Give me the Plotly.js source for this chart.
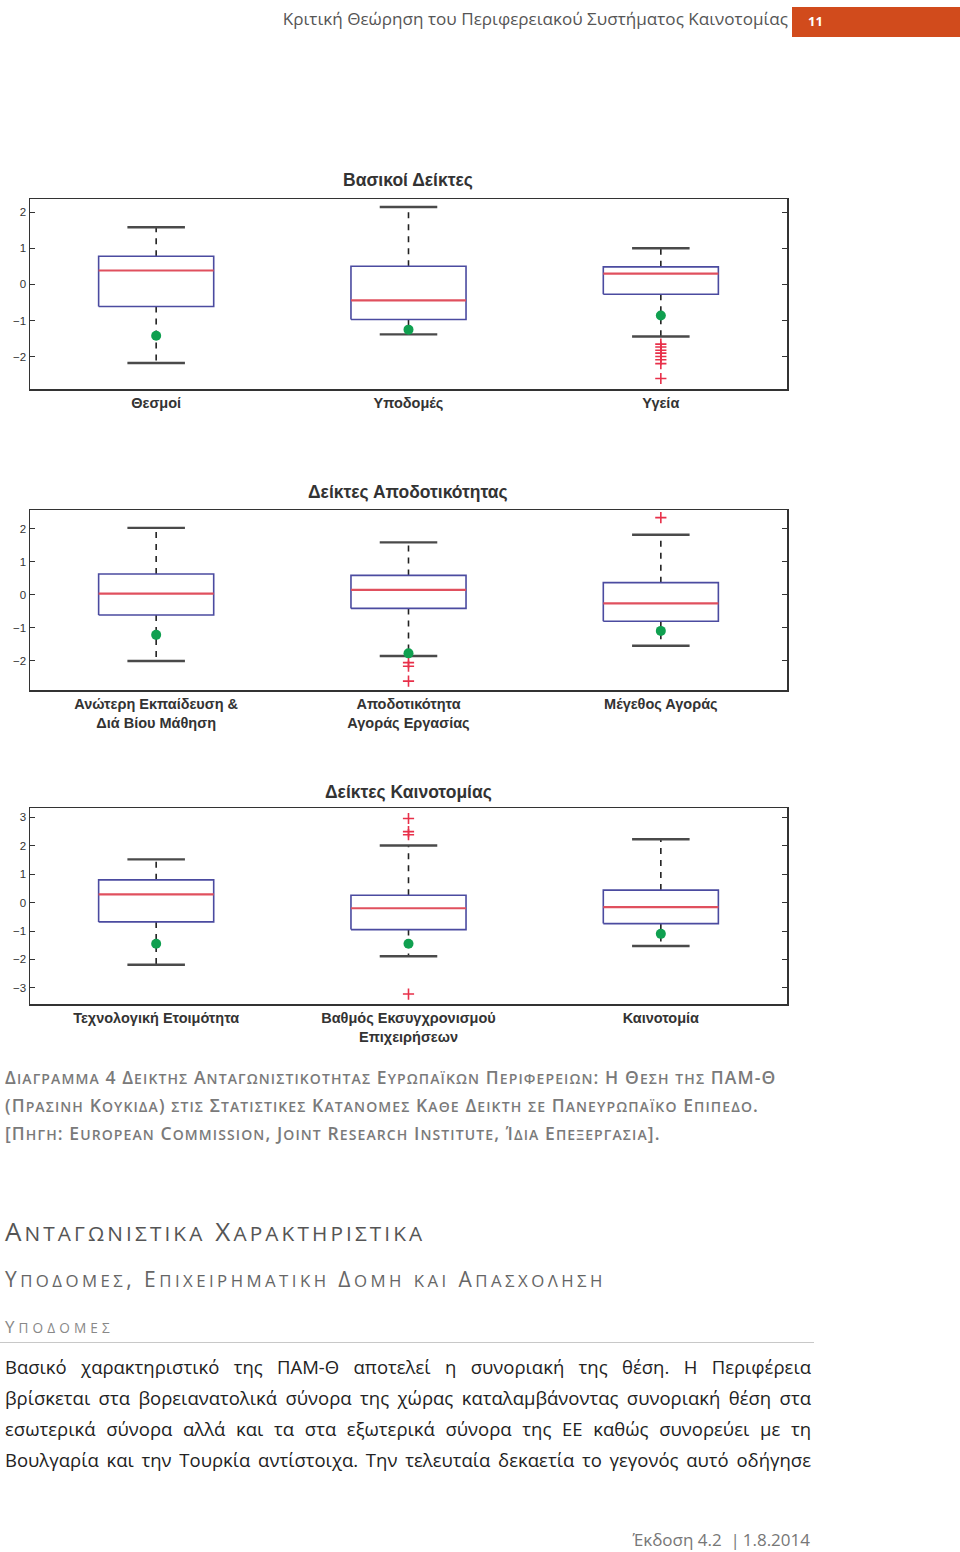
<!DOCTYPE html>
<html lang="el">
<head>
<meta charset="utf-8">
<script src="https://cdn.plot.ly/plotly-3.0.1.min.js"></script>
<style>
  body { margin: 0; background: #fff; font-family: "Open Sans", "Noto Sans", sans-serif; }
  #page { position: relative; width: 960px; height: 1552px; overflow: hidden; }
  .abs { position: absolute; white-space: nowrap; }
  #head { right: 172px; top: 7px; font-size: 17.1px; color: #555; }
  #pagebox { left: 792px; top: 7px; width: 168px; height: 30px; background: #d14b1c; }
  #pagenum { left: 808px; top: 12px; font-size: 13px; font-weight: bold; color: #fff; }
  #charts { position: absolute; left: 0; top: 150px; width: 960px; height: 910px; }
  .cap { left: 5px; font-size: 17.5px; font-weight: 600; color: #7a7a7a; letter-spacing: 1.1px; }
  .h1 { left: 5px; top: 1213px; font-size: 26px; color: #555; letter-spacing: 3.1px; }
  .h2 { left: 5px; top: 1265px; font-size: 21px; color: #666; letter-spacing: 3.45px; }
  .h3 { left: 5px; top: 1315px; font-size: 17px; color: #888; letter-spacing: 4.1px; }
  #rule { position: absolute; left: 0; top: 1342px; width: 814px; height: 1px; background: #c8c8c8; }
  .body { position: absolute; left: 5px; width: 806px; font-size: 18.5px; color: #222; text-align: justify; text-align-last: justify; white-space: nowrap; }
  #foot { right: 150px; top: 1528px; font-size: 17px; color: #777; }
</style>
</head>
<body>
<div id="page">
  <div id="head" class="abs">Κριτική Θεώρηση του Περιφερειακού Συστήματος Καινοτομίας</div>
  <div id="pagebox" class="abs"></div>
  <div id="pagenum" class="abs">11</div>

  <div id="charts"></div>

  <div class="abs cap sc" style="top:1065px">Διαγραμμα 4 Δεικτης Ανταγωνιστικοτητας Ευρωπαϊκων Περιφερειων: Η Θεση της ΠΑΜ-Θ</div>
  <div class="abs cap sc" style="top:1093px">(Πρασινη Κουκιδα) στις Στατιστικες Κατανομες Καθε Δεικτη σε Πανευρωπαϊκο Επιπεδο.</div>
  <div class="abs cap sc" style="top:1121px">[Πηγη: European Commission, Joint Research Institute, Ίδια Επεξεργασια].</div>

  <div class="abs h1 sc">Ανταγωνιστικα Χαρακτηριστικα</div>
  <div class="abs h2 sc">Υποδομες, Επιχειρηματικη Δομη και Απασχοληση</div>
  <div class="abs h3 sc">Υποδομες</div>
  <div id="rule"></div>

  <div class="body" style="top:1354px">Βασικό χαρακτηριστικό της ΠΑΜ-Θ αποτελεί η συνοριακή της θέση. Η Περιφέρεια</div>
  <div class="body" style="top:1385px">βρίσκεται στα βορειανατολικά σύνορα της χώρας καταλαμβάνοντας συνοριακή θέση στα</div>
  <div class="body" style="top:1416px">εσωτερικά σύνορα αλλά και τα στα εξωτερικά σύνορα της ΕΕ καθώς συνορεύει με τη</div>
  <div class="body" style="top:1447px">Βουλγαρία και την Τουρκία αντίστοιχα. Την τελευταία δεκαετία το γεγονός αυτό οδήγησε</div>

  <div id="foot" class="abs">Έκδοση 4.2 &nbsp;|&thinsp;1.8.2014</div>
</div>

<script>
// Βασικοί Δείκτες
var basicCategories = ["Θεσμοί", "Υποδομές", "Υγεία"];
var basicQ1 = [-0.61, -0.97, -0.27];
var basicMedian = [0.385, -0.44, 0.30];
var basicQ3 = [0.78, 0.50, 0.485];
var basicLower = [-2.17, -1.38, -1.44];
var basicUpper = [1.58, 2.14, 1.00];
var basicRegion = [-1.42, -1.25, -0.86];
var basicOutlierCat = [2, 2, 2, 2, 2, 2, 2, 2];
var basicOutliers = [-1.65, -1.73, -1.82, -1.90, -1.99, -2.08, -2.19, -2.60];

// Δείκτες Αποδοτικότητας
var effCategories = ["Ανώτερη Εκπαίδευση &<br>Διά Βίου Μάθηση", "Αποδοτικότητα<br>Αγοράς Εργασίας", "Μέγεθος Αγοράς"];
var effQ1 = [-0.62, -0.42, -0.81];
var effMedian = [0.03, 0.14, -0.27];
var effQ3 = [0.62, 0.58, 0.36];
var effLower = [-2.01, -1.86, -1.55];
var effUpper = [2.02, 1.58, 1.81];
var effRegion = [-1.22, -1.78, -1.10];
var effOutlierCat = [1, 1, 1, 2];
var effOutliers = [-2.06, -2.17, -2.62, 2.33];

// Δείκτες Καινοτομίας
var innCategories = ["Τεχνολογική Ετοιμότητα", "Βαθμός Εκσυγχρονισμού<br>Επιχειρήσεων", "Καινοτομία"];
var innQ1 = [-0.68, -0.95, -0.74];
var innMedian = [0.29, -0.20, -0.16];
var innQ3 = [0.80, 0.26, 0.44];
var innLower = [-2.19, -1.89, -1.53];
var innUpper = [1.52, 2.01, 2.23];
var innRegion = [-1.45, -1.45, -1.10];
var innOutlierCat = [1, 1, 1, 1];
var innOutliers = [2.96, 2.50, 2.39, -3.22];

var BOX_HALF = 0.228;
var CAP_HALF = 0.114;
var FIG_TOP = 150;
var FIG_HEIGHT = 910;
var CHART_FONT = "Liberation Sans, Arial, sans-serif";

// small caps by hand: lowercase runs become smaller capitals
var smallCaps = function(text) {
  var out = "";
  var run = "";
  var flush = function() {
    if (run) {
      out += '<span style="font-size:0.8em">' + run.toUpperCase() + "</span>";
      run = "";
    }
  };
  Array.from(text).forEach(function(ch) {
    if (ch !== ch.toUpperCase()) {
      run += ch;
    } else {
      flush();
      out += ch.replace("&", "&amp;");
    }
  });
  flush();
  return out;
};

document.querySelectorAll(".sc").forEach(function(node) {
  node.innerHTML = smallCaps(node.textContent);
});

var paperY = function(pixelY) {
  return 1 - (pixelY - FIG_TOP) / FIG_HEIGHT;
};

var boxTraces = function(axisSuffix, q1, median, q3, lower, upper, region, outlierCat, outliers) {
  var box = { x: [], y: [] };
  var med = { x: [], y: [] };
  var whisk = { x: [], y: [] };
  var caps = { x: [], y: [] };
  var centers = [];

  q1.forEach(function(v, i) {
    centers.push(i);
    box.x.push(i - BOX_HALF, i + BOX_HALF, i + BOX_HALF, i - BOX_HALF, i - BOX_HALF, null);
    box.y.push(q1[i], q1[i], q3[i], q3[i], q1[i], null);
    med.x.push(i - BOX_HALF, i + BOX_HALF, null);
    med.y.push(median[i], median[i], null);
    whisk.x.push(i, i, null, i, i, null);
    whisk.y.push(q3[i], upper[i], null, q1[i], lower[i], null);
    caps.x.push(i - CAP_HALF, i + CAP_HALF, null, i - CAP_HALF, i + CAP_HALF, null);
    caps.y.push(upper[i], upper[i], null, lower[i], lower[i], null);
  });

  var base = { xaxis: "x" + axisSuffix, yaxis: "y" + axisSuffix, hoverinfo: "skip", showlegend: false };
  return [
    Object.assign({}, base, { type: "scatter", mode: "lines", x: whisk.x, y: whisk.y,
      line: { color: "#222", width: 1.6, dash: "6px,6px" } }),
    Object.assign({}, base, { type: "scatter", mode: "lines", x: caps.x, y: caps.y,
      line: { color: "#4a4a4a", width: 2.4 } }),
    Object.assign({}, base, { type: "scatter", mode: "lines", x: box.x, y: box.y,
      line: { color: "#4b4ba0", width: 1.6 } }),
    Object.assign({}, base, { type: "scatter", mode: "lines", x: med.x, y: med.y,
      line: { color: "#e0505e", width: 2.2 } }),
    Object.assign({}, base, { type: "scatter", mode: "markers", x: outlierCat, y: outliers,
      marker: { symbol: "cross-thin-open", size: 8, color: "#e8304a", line: { width: 1.6 } } }),
    Object.assign({}, base, { type: "scatter", mode: "markers", x: centers, y: region,
      marker: { symbol: "circle", size: 10, color: "#10a050" } })
  ];
};

var xAxisFor = function(categories, anchor) {
  return {
    domain: [30 / 960, 787 / 960],
    range: [-0.5, 2.5],
    anchor: anchor,
    tickvals: [0, 1, 2],
    ticktext: categories,
    ticks: "",
    showgrid: false,
    zeroline: false,
    showline: true,
    mirror: true,
    linecolor: "#333",
    linewidth: 1.5,
    tickfont: { family: CHART_FONT, size: 14.5, color: "#333", weight: "bold" }
  };
};

var yAxisFor = function(top, bottom, range, anchor) {
  return {
    domain: [paperY(bottom), paperY(top)],
    range: range,
    anchor: anchor,
    dtick: 1,
    ticks: "inside",
    ticklen: 5,
    tickcolor: "#333",
    showgrid: false,
    zeroline: false,
    showline: true,
    mirror: "ticks",
    linecolor: "#333",
    linewidth: 1.5,
    tickfont: { family: CHART_FONT, size: 11.5, color: "#333" }
  };
};

var titleNote = function(text, pixelY) {
  return {
    text: text,
    xref: "paper",
    yref: "paper",
    x: 408 / 960,
    y: paperY(pixelY),
    xanchor: "center",
    yanchor: "middle",
    showarrow: false,
    font: { family: CHART_FONT, size: 17.5, color: "#333", weight: "bold" }
  };
};

var data = []
  .concat(boxTraces("", basicQ1, basicMedian, basicQ3, basicLower, basicUpper, basicRegion, basicOutlierCat, basicOutliers))
  .concat(boxTraces("2", effQ1, effMedian, effQ3, effLower, effUpper, effRegion, effOutlierCat, effOutliers))
  .concat(boxTraces("3", innQ1, innMedian, innQ3, innLower, innUpper, innRegion, innOutlierCat, innOutliers));

var layout = {
  width: 960,
  height: FIG_HEIGHT,
  margin: { l: 0, r: 0, t: 0, b: 0 },
  paper_bgcolor: "rgba(0,0,0,0)",
  plot_bgcolor: "#fff",
  showlegend: false,
  xaxis: xAxisFor(basicCategories, "y"),
  yaxis: yAxisFor(199, 389, [-2.89, 2.36], "x"),
  xaxis2: xAxisFor(effCategories, "y2"),
  yaxis2: yAxisFor(510, 690, [-2.89, 2.56], "x2"),
  xaxis3: xAxisFor(innCategories, "y3"),
  yaxis3: yAxisFor(808, 1004, [-3.57, 3.33], "x3"),
  annotations: [
    titleNote("Βασικοί Δείκτες", 180),
    titleNote("Δείκτες Αποδοτικότητας", 492),
    titleNote("Δείκτες Καινοτομίας", 792)
  ]
};

Plotly.newPlot(document.getElementById("charts"), data, layout, { displayModeBar: false, staticPlot: true });
</script>
</body>
</html>
